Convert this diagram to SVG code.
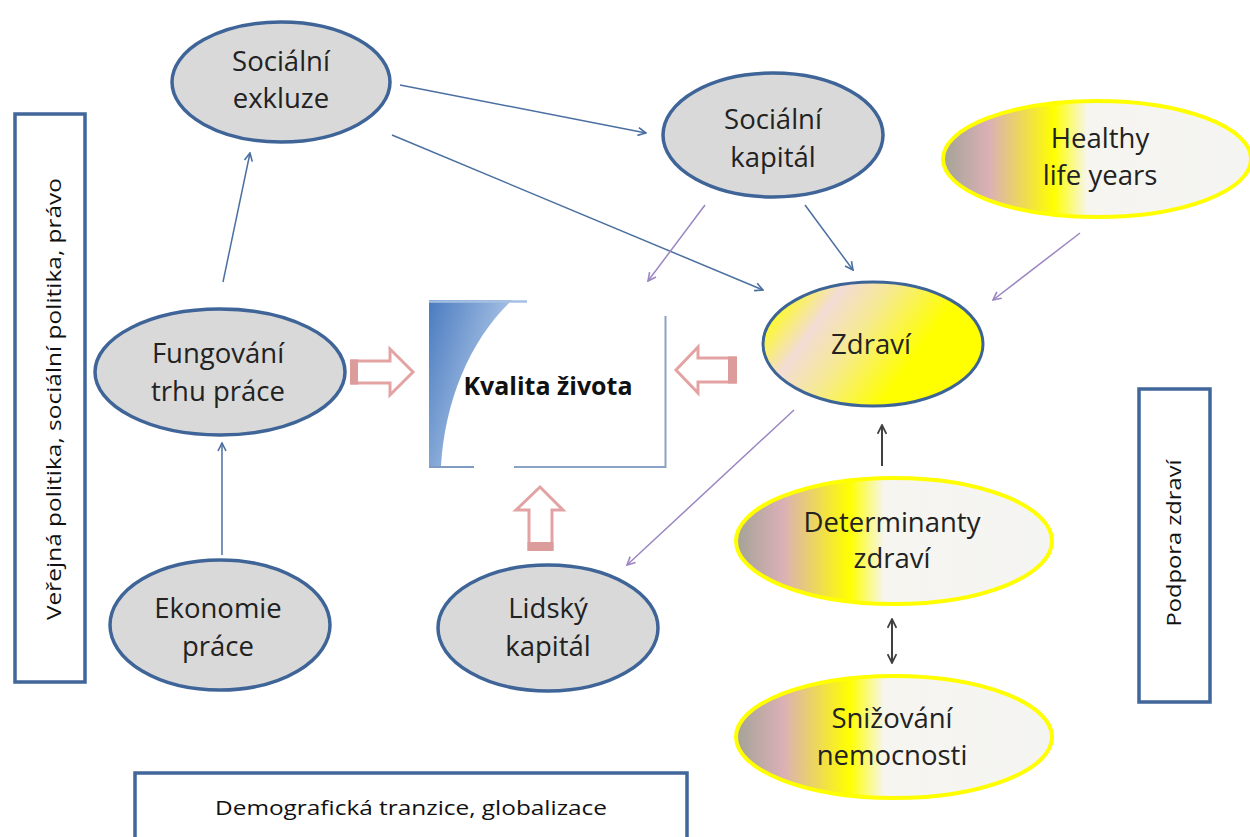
<svg xmlns="http://www.w3.org/2000/svg" width="1250" height="837" viewBox="0 0 1250 837">
<defs>
<linearGradient id="yg" x1="0" y1="0" x2="1" y2="0">
<stop offset="0" stop-color="#a3a396"/>
<stop offset="0.15" stop-color="#dbb0b6"/>
<stop offset="0.36" stop-color="#ffff00"/>
<stop offset="0.47" stop-color="#f6f5f0"/>
<stop offset="1" stop-color="#f4f4f2"/>
</linearGradient>
<linearGradient id="zg" x1="0" y1="0.3" x2="1" y2="0.7">
<stop offset="0" stop-color="#ffff10"/>
<stop offset="0.22" stop-color="#f3dcd6"/>
<stop offset="0.42" stop-color="#f6ea90"/>
<stop offset="0.7" stop-color="#ffff00"/>
<stop offset="1" stop-color="#ffff00"/>
</linearGradient>
<linearGradient id="bg" x1="0" y1="0" x2="1" y2="0.6">
<stop offset="0" stop-color="#4a7bc0"/>
<stop offset="1" stop-color="#c2d6ef"/>
</linearGradient>
<marker id="ab" viewBox="0 0 10 10" refX="9" refY="5" markerWidth="10" markerHeight="10" markerUnits="userSpaceOnUse" orient="auto">
<path d="M1,1 L9,5 L1,9" fill="none" stroke="#4a6fa0" stroke-width="1.6"/>
</marker>
<marker id="ap" viewBox="0 0 10 10" refX="9" refY="5" markerWidth="10" markerHeight="10" markerUnits="userSpaceOnUse" orient="auto">
<path d="M1,1 L9,5 L1,9" fill="none" stroke="#9b86c2" stroke-width="1.6"/>
</marker>
<marker id="ak" viewBox="0 0 10 10" refX="9" refY="5" markerWidth="11" markerHeight="11" markerUnits="userSpaceOnUse" orient="auto-start-reverse">
<path d="M1,1 L9,5 L1,9" fill="none" stroke="#404040" stroke-width="1.6"/>
</marker>
<style>
.gray{fill:#d9d9d9;stroke:#3f6598;stroke-width:3.5}
.yel{fill:url(#yg);stroke:#ffff00;stroke-width:4}
.t{font-family:"Open Sans","Liberation Sans",sans-serif;font-size:27.5px;fill:#222;text-anchor:middle}
.box{fill:#fff;stroke:#41669a;stroke-width:3.5}
.bt{font-family:"Open Sans","Liberation Sans",sans-serif;font-size:20px;fill:#111;text-anchor:middle}
.cb{fill:none;stroke:#4a6fa0;stroke-width:1.5;marker-end:url(#ab)}
.cp{fill:none;stroke:#9b86c2;stroke-width:1.5;marker-end:url(#ap)}
.ck{fill:none;stroke:#404040;stroke-width:2}
.ha{fill:#fff;stroke:#e3a3a3;stroke-width:3;stroke-linejoin:miter}
.hb{fill:#dc9c9c}
</style>
</defs>
<rect width="1250" height="837" fill="#fff"/>

<g id="box-left">
<rect class="box" x="15" y="114" width="70" height="568"/>
<text class="bt" transform="translate(61,399) rotate(-90)" textLength="442" lengthAdjust="spacingAndGlyphs">Veřejná politika, sociální politika, právo</text>
</g>
<g id="box-right">
<rect class="box" x="1139" y="389" width="71" height="313"/>
<text class="bt" transform="translate(1181,543) rotate(-90)" textLength="167" lengthAdjust="spacingAndGlyphs">Podpora zdraví</text>
</g>
<g id="box-bottom">
<rect class="box" x="135" y="773" width="552" height="90"/>
<text class="bt" x="411" y="815" textLength="392" lengthAdjust="spacingAndGlyphs">Demografická tranzice, globalizace</text>
</g>

<g id="kvalita">
<path d="M429,300 L512,300 C470,340 445,400 441,466 L429,467 Z" fill="url(#bg)"/>
<line x1="429" y1="301.5" x2="527" y2="301.5" stroke="#a6c0e2" stroke-width="2.5"/>
<line x1="665.5" y1="316" x2="665.5" y2="468" stroke="#8aa3c4" stroke-width="2"/>
<line x1="429" y1="467" x2="474" y2="467" stroke="#7f9cc0" stroke-width="2"/>
<line x1="514" y1="467" x2="666" y2="467" stroke="#8aa3c4" stroke-width="2"/>
<text x="548" y="395" font-family="'Open Sans','Liberation Sans',sans-serif" font-size="25" font-weight="bold" fill="#111" text-anchor="middle">Kvalita života</text>
</g>

<g id="socialni-exkluze">
<ellipse class="gray" cx="281" cy="82" rx="109" ry="60"/>
<text class="t" x="281" y="71">Sociální</text>
<text class="t" x="281" y="108">exkluze</text>
</g>
<g id="socialni-kapital">
<ellipse class="gray" cx="773" cy="135" rx="110" ry="62"/>
<text class="t" x="773" y="129">Sociální</text>
<text class="t" x="773" y="167">kapitál</text>
</g>
<g id="healthy">
<ellipse class="yel" cx="1097" cy="159" rx="154" ry="58"/>
<text class="t" x="1100" y="148">Healthy</text>
<text class="t" x="1100" y="185">life years</text>
</g>
<g id="zdravi">
<ellipse cx="873" cy="344" rx="110" ry="62" fill="url(#zg)" stroke="#3d6496" stroke-width="3"/>
<text class="t" x="871" y="354">Zdraví</text>
</g>
<g id="fungovani">
<ellipse class="gray" cx="220" cy="372" rx="125" ry="63"/>
<text class="t" x="218" y="363">Fungování</text>
<text class="t" x="218" y="401">trhu práce</text>
</g>
<g id="ekonomie">
<ellipse class="gray" cx="220" cy="625" rx="110" ry="65"/>
<text class="t" x="218" y="618">Ekonomie</text>
<text class="t" x="218" y="656">práce</text>
</g>
<g id="lidsky">
<ellipse class="gray" cx="548" cy="628" rx="110" ry="63"/>
<text class="t" x="548" y="618">Lidský</text>
<text class="t" x="548" y="656">kapitál</text>
</g>
<g id="determinanty">
<ellipse class="yel" cx="894" cy="541" rx="158" ry="63"/>
<text class="t" x="892" y="532">Determinanty</text>
<text class="t" x="892" y="568">zdraví</text>
</g>
<g id="snizovani">
<ellipse class="yel" cx="894" cy="737" rx="158" ry="61"/>
<text class="t" x="892" y="728">Snižování</text>
<text class="t" x="892" y="765">nemocnosti</text>
</g>

<g id="connectors">
<line class="cb" x1="400" y1="85" x2="646" y2="133"/>
<line class="cb" x1="392" y1="135" x2="763" y2="290"/>
<line class="cb" x1="805" y1="205" x2="853" y2="270"/>
<line class="cp" x1="705" y1="205" x2="648" y2="281"/>
<line class="cp" x1="1080" y1="233" x2="993" y2="300"/>
<line class="cp" x1="794" y1="410" x2="627" y2="565"/>
<line class="cb" x1="223" y1="282" x2="250" y2="153"/>
<line class="cb" x1="222" y1="555" x2="222" y2="443"/>
<line class="ck" x1="882" y1="466" x2="882" y2="425" marker-end="url(#ak)"/>
<line class="ck" x1="892" y1="619" x2="892" y2="663" marker-start="url(#ak)" marker-end="url(#ak)"/>
<g id="hollow-right">
<polygon class="ha" points="352,361 390,361 390,349 413,372 390,395 390,383 352,383"/>
<rect class="hb" x="350" y="359.5" width="8" height="25"/>
</g>
<g id="hollow-left">
<polygon class="ha" points="735,358 698,358 698,347 676,370 698,393 698,382 735,382"/>
<rect class="hb" x="728" y="356.5" width="9" height="27"/>
</g>
<g id="hollow-up">
<polygon class="ha" points="529,549 529,510 516,510 540,487 563,510 552,510 552,549"/>
<rect class="hb" x="527.5" y="542" width="26" height="9"/>
</g>
</g>
</svg>
